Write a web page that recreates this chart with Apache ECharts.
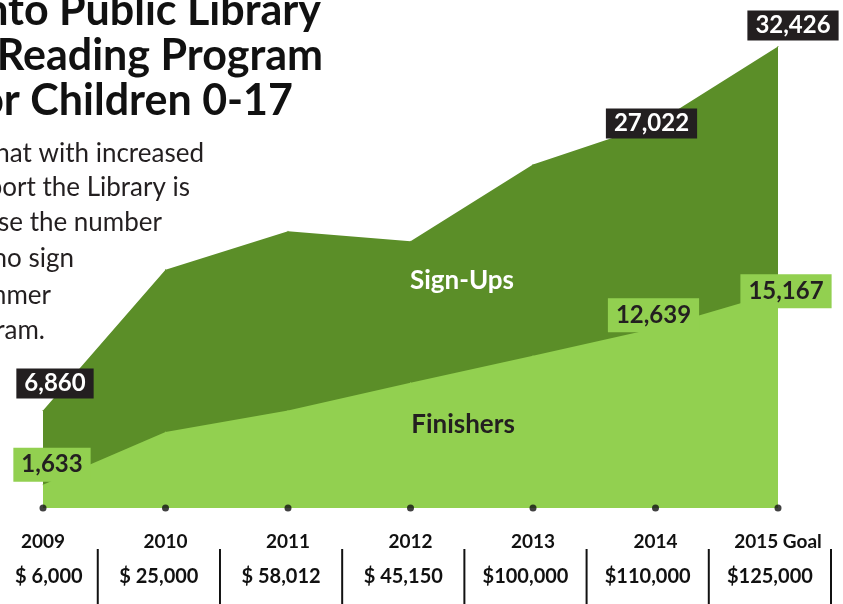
<!DOCTYPE html>
<html>
<head>
<meta charset="utf-8">
<script src="https://cdn.jsdelivr.net/npm/echarts@6/dist/echarts.min.js"></script>
<style>
  html, body { margin: 0; padding: 0; background: #fff; }
  #chart { width: 843px; height: 604px; }
</style>
</head>
<body>
<div id="chart"></div>
<script>
// data
const years = ['2009', '2010', '2011', '2012', '2013', '2014', '2015 Goal'];
const funding = ['$ 6,000', '$ 25,000', '$ 58,012', '$ 45,150', '$100,000', '$110,000', '$125,000'];
const signUps = [6860, 16750, 19450, 18750, 24150, 27022, 32426];
const finishers = [1633, 5350, 6850, 8800, 10700, 12639, 15167];
const baseline = [0, 0, 0, 0, 0, 0, 0];
const labelled = [0, 5, 6]; // which points carry a number box

const dark = '#5b8e28';
const light = '#92d050';
const ink = '#231f20';
const font = 'Lato, "Noto Sans", sans-serif';

// label shifts from the point centre, per labelled point
const signShift = { 0: [12, -27], 5: [-4, 0], 6: [15, -21] };
const finShift = { 0: [9, -20], 5: [-2, -13], 6: [8, -1] };

function withLabels(values, shift, bg, color, pad) {
    return values.map((v, i) => {
        if (labelled.indexOf(i) < 0) return v;
        return {
            value: v,
            label: {
                show: true,
                position: 'inside',
                offset: shift[i],
                formatter: (p) => p.value.toLocaleString('en-US'),
                backgroundColor: bg,
                color: color,
                fontFamily: font,
                fontWeight: 'bold',
                fontSize: 24,
                padding: pad
            }
        };
    });
}

const myChart = echarts.init(document.getElementById('chart'));

const titleLines = [
    { text: 'nto Public Library', y: 11, x: 321 },
    { text: 'Reading Program', y: 56, x: 323 },
    { text: 'or Children 0-17', y: 101, x: 293 }
];
const introLines = [
    { text: 'hat with increased', y: 154, x: 204 },
    { text: 'port the Library is', y: 188, x: 190 },
    { text: 'se the number', y: 223, x: 162 },
    { text: 'ho sign', y: 259, x: 74 },
    { text: 'mmer', y: 296, x: 51 },
    { text: 'ram.', y: 331, x: 45 }
];

const graphics = [];
titleLines.forEach(l => graphics.push({
    type: 'text', z: 100,
    x: l.x, y: l.y,
    style: { text: l.text, align: 'right', verticalAlign: 'middle', fill: '#111', font: 'bold 43px ' + font }
}));
introLines.forEach(l => graphics.push({
    type: 'text', z: 100,
    x: l.x, y: l.y,
    style: { text: l.text, align: 'right', verticalAlign: 'middle', fill: ink, font: '26px ' + font }
}));
graphics.push({
    type: 'text', z: 100, x: 462, y: 281,
    style: { text: 'Sign-Ups', align: 'center', verticalAlign: 'middle', fill: '#fff', font: 'bold 26px ' + font }
});
graphics.push({
    type: 'text', z: 100, x: 463, y: 425,
    style: { text: 'Finishers', align: 'center', verticalAlign: 'middle', fill: ink, font: 'bold 26px ' + font }
});

// one cell per funding amount, with a divider on its right
function fundingCell(params, api) {
    const i = api.value(0);
    const lo = api.coord([i, 0]);
    const hi = api.coord([i + 1, 1]);
    const left = Math.max(lo[0], params.coordSys.x);
    return {
        type: 'group',
        children: [
            {
                type: 'line',
                shape: { x1: hi[0], y1: hi[1], x2: hi[0], y2: lo[1] },
                style: { stroke: '#111', lineWidth: 2 }
            },
            {
                type: 'text',
                x: (left + hi[0]) / 2,
                y: (lo[1] + hi[1]) / 2,
                style: {
                    text: funding[i],
                    align: 'center',
                    verticalAlign: 'middle',
                    fill: '#111',
                    font: 'bold 20px ' + font
                }
            }
        ]
    };
}

const option = {
    animation: false,
    grid: [
        { left: 43, right: 65, top: 10, bottom: 96 },
        { left: 0, right: 12, top: 549, bottom: 0 }
    ],
    xAxis: [
        {
            type: 'category',
            data: years,
            boundaryGap: false,
            axisLine: { show: false },
            axisTick: { show: false },
            axisLabel: {
                interval: 0,
                margin: 24,
                color: '#111',
                fontFamily: font,
                fontWeight: 'bold',
                fontSize: 19
            }
        },
        { type: 'value', gridIndex: 1, min: 0.2, max: 7, show: false }
    ],
    yAxis: [
        { type: 'value', min: 0, max: 35000, show: false },
        { type: 'value', gridIndex: 1, min: 0, max: 1, show: false }
    ],
    series: [
        {
            name: 'Sign-Ups',
            type: 'line',
            data: withLabels(signUps, signShift, ink, '#fff', [4, 8, 2, 8]),
            symbol: 'circle',
            symbolSize: 1,
            itemStyle: { color: dark },
            lineStyle: { width: 0 },
            areaStyle: { color: dark, opacity: 1 },
            z: 2
        },
        {
            name: 'Finishers',
            type: 'line',
            data: withLabels(finishers, finShift, light, ink, [6, 8, 4, 8]),
            symbol: 'circle',
            symbolSize: 1,
            itemStyle: { color: light },
            lineStyle: { width: 0 },
            areaStyle: { color: light, opacity: 1 },
            z: 3
        },
        {
            type: 'scatter',
            data: baseline,
            symbolSize: 7,
            itemStyle: { color: '#111' },
            clip: false,
            z: 5
        },
        {
            type: 'custom',
            xAxisIndex: 1,
            yAxisIndex: 1,
            data: funding.map((f, i) => [i]),
            renderItem: fundingCell,
            clip: false
        }
    ],
    graphic: graphics
};

myChart.setOption(option);
</script>
</body>
</html>
